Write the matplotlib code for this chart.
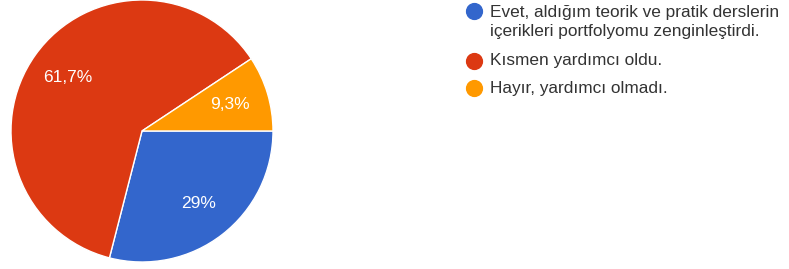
import matplotlib.pyplot as plt

# Veriler
labels = [
    "Evet, aldığım teorik ve pratik derslerin\niçerikleri portfolyomu zenginleştirdi.",
    "Kısmen yardımcı oldu.",
    "Hayır, yardımcı olmadı.",
]
values = [29.0, 61.7, 9.3]
colors = ["#3366cc", "#dc3912", "#ff9900"]

plt.rcParams['font.family'] = ['Liberation Sans', 'DejaVu Sans']

W, H = 789, 269
fig = plt.figure(figsize=(W / 100, H / 100), dpi=100)
ax = fig.add_axes([0, 0, 1, 1])


def fmt(p):
    # Google Forms biçimi: ondalık virgül, tam sayıysa ondalıksız
    s = f"{p:.1f}"
    if s.endswith(".0"):
        s = s[:-2]
    return s.replace(".", ",") + "%"


wedges, texts, autotexts = ax.pie(
    values, colors=colors, startangle=0, counterclock=False,
    center=(142, H - 131), radius=131, frame=True,
    autopct=fmt, pctdistance=0.7,
    wedgeprops=dict(edgecolor="white", linewidth=1),
    textprops=dict(color="white", fontsize=12.5),
)

ax.set_xlim(0, W)
ax.set_ylim(0, H)
ax.axis("off")

# Açıklama (legend)
dot_y = [11, 61, 88]
text_y = [22, 61, 88]
for lab, c, dy, ty in zip(labels, colors, dot_y, text_y):
    ax.scatter([474], [H - dy], s=130, color=c, zorder=3)
    ax.text(490, H - ty, lab, fontsize=12.4, color="#333333",
            va="center", ha="left", linespacing=1.4)

fig.savefig("out.png", dpi=100)
